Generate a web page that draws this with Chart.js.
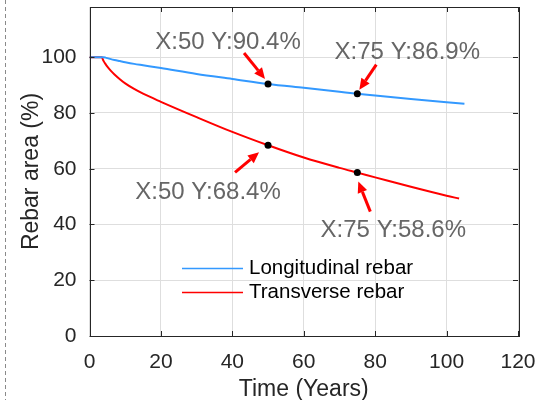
<!DOCTYPE html>
<html>
<head>
<meta charset="utf-8">
<script src="https://cdn.jsdelivr.net/npm/chart.js@4.4.1/dist/chart.umd.min.js"></script>
<style>
  html, body { margin: 0; padding: 0; background: #fff; }
  canvas { display: block; }
</style>
</head>
<body>
<canvas id="rebarChart" width="546" height="400"></canvas>
<script>
// values
const longYears = [0, 4, 4.5, 5, 6, 7, 8.5, 10, 12.5, 15, 20, 30, 40, 50, 60, 70, 75, 80, 90, 100, 105];
const longArea = [100, 100, 99.85, 99.65, 99.3, 99.0, 98.6, 98.2, 97.6, 97.1, 96.1, 94.0, 92.2, 90.4, 89.0, 87.6, 86.9, 86.3, 85.0, 83.8, 83.3];
const transYears = [0, 3.5, 3.7, 4, 4.5, 5, 6, 7, 8.5, 10, 12.5, 15, 20, 30, 40, 50, 60, 70, 75, 80, 90, 100, 103.5];
const transArea = [100, 100, 99.3, 98.5, 97.5, 96.6, 95.1, 93.8, 92.1, 90.6, 88.6, 86.9, 84.0, 78.5, 73.2, 68.4, 64.0, 60.3, 58.6, 56.9, 53.5, 50.3, 49.3];
const tipYears = [50, 75, 50, 75];
const tipValues = [90.4, 86.9, 68.4, 58.6];
const xTicks = [0, 20, 40, 60, 80, 100, 120];
const yTicks = [0, 20, 40, 60, 80, 100];

const FONT = "'Liberation Sans', Arial, sans-serif";
const AXIS_COLOR = '#262626';
const GRID_COLOR = '#dedede';

// label / arrow offsets (pixels) relative to each data tip
const tipLayout = [
  { text: [-40, -42], tail: [-24, -31], head: [-3, -5] },
  { text: [50, -41], tail: [19, -29], head: [2, -4] },
  { text: [-60, 47], tail: [-33, 27], head: [-9, 7] },
  { text: [36, 58], tail: [13, 39], head: [1, 9] }
];

function toPoints(xs, ys) {
  return xs.map((x, i) => ({ x: x, y: ys[i] }));
}

function drawArrow(ctx, x1, y1, x2, y2) {
  const ang = Math.atan2(y2 - y1, x2 - x1);
  const len = 11, half = 5;
  const bx = x2 - len * Math.cos(ang), by = y2 - len * Math.sin(ang);
  ctx.strokeStyle = '#ff0000';
  ctx.fillStyle = '#ff0000';
  ctx.lineWidth = 3;
  ctx.beginPath();
  ctx.moveTo(x1, y1);
  ctx.lineTo(bx, by);
  ctx.stroke();
  ctx.beginPath();
  ctx.moveTo(x2, y2);
  ctx.lineTo(bx + half * Math.sin(ang), by - half * Math.cos(ang));
  ctx.lineTo(bx - half * Math.sin(ang), by + half * Math.cos(ang));
  ctx.closePath();
  ctx.fill();
}

const decorPlugin = {
  id: 'decor',
  beforeDraw(chart) {
    const ctx = chart.ctx;
    ctx.save();
    ctx.fillStyle = '#fff';
    ctx.fillRect(0, 0, chart.width, chart.height);
    // dashed page edge on the left
    ctx.strokeStyle = '#8a8a8a';
    ctx.lineWidth = 1;
    ctx.setLineDash([4, 3]);
    ctx.beginPath();
    ctx.moveTo(5.5, 0);
    ctx.lineTo(5.5, chart.height);
    ctx.stroke();
    ctx.restore();
  },
  afterDatasetsDraw(chart) {
    const ctx = chart.ctx;
    const a = chart.chartArea;
    const xs = chart.scales.x, ys = chart.scales.y;
    ctx.save();

    // axes box with inward ticks
    ctx.strokeStyle = AXIS_COLOR;
    ctx.lineWidth = 1;
    ctx.strokeRect(Math.round(a.left) + 0.5, Math.round(a.top) + 0.5,
      Math.round(a.right - a.left), Math.round(a.bottom - a.top));
    ctx.beginPath();
    xTicks.forEach(v => {
      const px = Math.round(xs.getPixelForValue(v)) + 0.5;
      ctx.moveTo(px, a.bottom); ctx.lineTo(px, a.bottom - 5);
      ctx.moveTo(px, a.top); ctx.lineTo(px, a.top + 5);
    });
    yTicks.forEach(v => {
      const py = Math.round(ys.getPixelForValue(v)) + 0.5;
      ctx.moveTo(a.left, py); ctx.lineTo(a.left + 5, py);
      ctx.moveTo(a.right, py); ctx.lineTo(a.right - 5, py);
    });
    ctx.stroke();

    // data tip labels and arrows
    tipYears.forEach((yr, i) => {
      const px = xs.getPixelForValue(yr);
      const py = ys.getPixelForValue(tipValues[i]);
      const l = tipLayout[i];
      drawArrow(ctx, px + l.tail[0], py + l.tail[1], px + l.head[0], py + l.head[1]);
      ctx.fillStyle = '#666666';
      ctx.font = '24px ' + FONT;
      ctx.textAlign = 'center';
      ctx.textBaseline = 'middle';
      ctx.fillText('X:' + yr + ' Y:' + tipValues[i].toFixed(1) + '%', px + l.text[0], py + l.text[1]);
    });

    // legend
    const entries = chart.data.datasets.filter(d => d.label);
    entries.forEach((d, i) => {
      const y = 268.5 + i * 24;
      ctx.strokeStyle = d.borderColor;
      ctx.lineWidth = 1.5;
      ctx.beginPath();
      ctx.moveTo(182, y);
      ctx.lineTo(243, y);
      ctx.stroke();
      ctx.fillStyle = '#000';
      ctx.font = '20.5px ' + FONT;
      ctx.textAlign = 'left';
      ctx.textBaseline = 'middle';
      ctx.fillText(d.label, 249, y);
    });
    ctx.restore();
  }
};

const ctx = document.getElementById('rebarChart').getContext('2d');
new Chart(ctx, {
  type: 'scatter',
  data: {
    datasets: [
      {
        data: toPoints(tipYears, tipValues),
        showLine: false,
        pointRadius: 3.5,
        pointBackgroundColor: '#000',
        pointBorderColor: '#000',
        pointBorderWidth: 0
      },
      {
        label: 'Longitudinal rebar',
        data: toPoints(longYears, longArea),
        showLine: true,
        borderColor: '#3399ff',
        borderWidth: 2,
        pointRadius: 0,
        cubicInterpolationMode: 'monotone'
      },
      {
        label: 'Transverse rebar',
        data: toPoints(transYears, transArea),
        showLine: true,
        borderColor: '#ff0000',
        borderWidth: 2,
        pointRadius: 0,
        cubicInterpolationMode: 'monotone'
      }
    ]
  },
  options: {
    responsive: false,
    animation: false,
    layout: { padding: { top: 7, right: 28, left: 0, bottom: 0 } },
    plugins: { legend: { display: false }, tooltip: { enabled: false } },
    scales: {
      x: {
        type: 'linear',
        min: 0,
        max: 120,
        afterBuildTicks: scale => { scale.ticks = xTicks.map(v => ({ value: v })); },
        afterFit: scale => {
          scale.height = 64;
          scale.paddingLeft = 0;
          scale.paddingRight = 0;
        },
        grid: { color: GRID_COLOR, drawTicks: false },
        border: { display: false },
        ticks: { color: AXIS_COLOR, font: { family: FONT, size: 21 }, padding: 14, maxRotation: 0 },
        title: { display: true, text: 'Time (Years)', color: AXIS_COLOR, font: { family: FONT, size: 23 }, padding: { top: 0, bottom: -3 } }
      },
      y: {
        type: 'linear',
        min: 0,
        max: 118,
        afterBuildTicks: scale => { scale.ticks = yTicks.map(v => ({ value: v })); },
        afterFit: scale => {
          scale.width = 89.5;
          scale.paddingTop = 0;
          scale.paddingBottom = 0;
        },
        grid: { color: GRID_COLOR, drawTicks: false },
        border: { display: false },
        ticks: { color: AXIS_COLOR, font: { family: FONT, size: 21 }, padding: 13 },
        title: { display: true, text: 'Rebar area (%)', color: AXIS_COLOR, font: { family: FONT, size: 23 }, padding: { top: 18, bottom: 0 } }
      }
    }
  },
  plugins: [decorPlugin]
});
</script>
</body>
</html>
